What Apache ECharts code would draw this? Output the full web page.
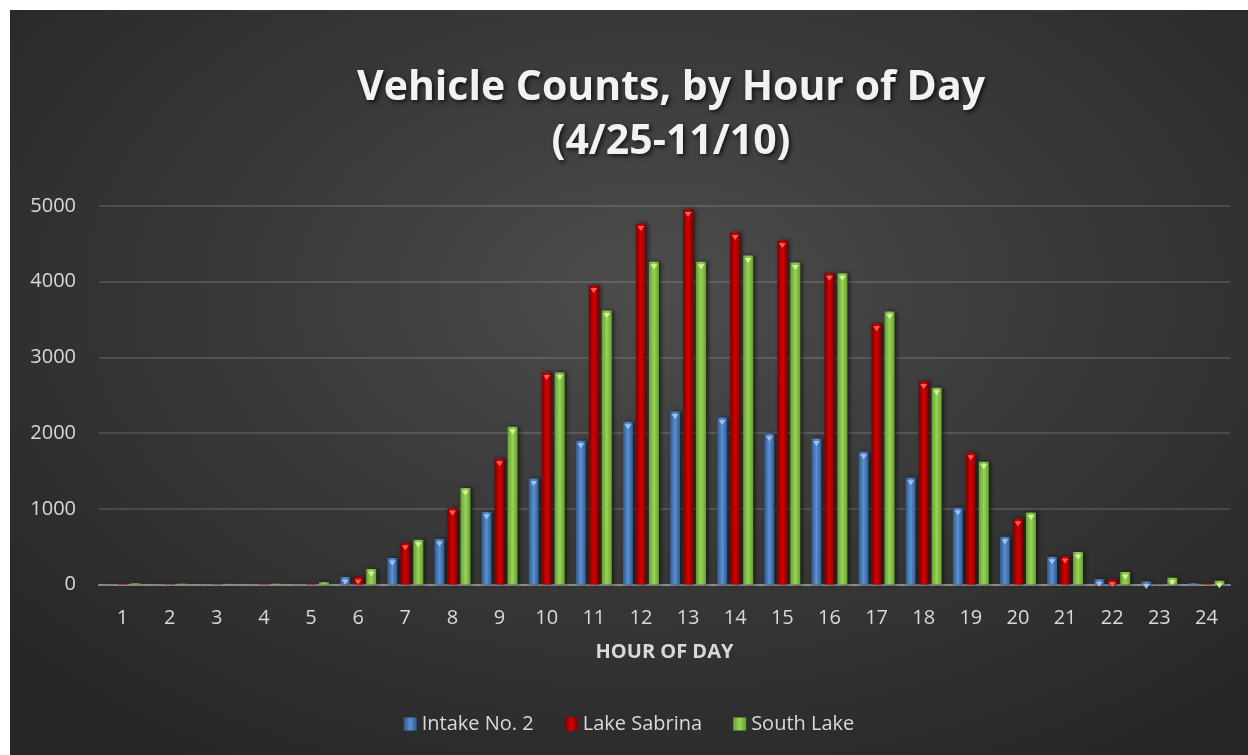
<!DOCTYPE html>
<html>
<head>
<meta charset="utf-8">
<script src="https://cdn.jsdelivr.net/npm/echarts@6/dist/echarts.min.js"></script>
<style>
  html, body { margin: 0; padding: 0; background: #ffffff; }
  #main {
    position: absolute; left: 10px; top: 10px; width: 1238px; height: 745px;
    background: radial-gradient(ellipse 70% 75% at 52% 38%, #4d4d4d 0%, #3a3a3a 45%, #262626 100%);
  }
</style>
</head>
<body>
<div id="main"></div>
<script>
// hour of day
var hours = ['1','2','3','4','5','6','7','8','9','10','11','12','13','14','15','16','17','18','19','20','21','22','23','24'];
// vehicle counts per hour
var intake  = [5, 4, 4, 4, 6, 100, 350, 600, 960, 1400, 1900, 2150, 2285, 2205, 1990, 1930, 1755, 1410, 1013, 630, 365, 70, 40, 15];
var sabrina = [8, 6, 5, 6, 12, 100, 550, 1010, 1660, 2800, 3950, 4770, 4955, 4650, 4545, 4110, 3445, 2680, 1740, 870, 375, 65, 5, 10];
var south   = [15, 10, 8, 10, 30, 205, 590, 1275, 2085, 2800, 3620, 4265, 4265, 4345, 4255, 4110, 3605, 2600, 1620, 950, 430, 165, 90, 50];
var yTicks = [0, 1000, 2000, 3000, 4000, 5000];

var font = '"Open Sans", "DejaVu Sans", sans-serif';

// gradient helper: dark edges, light middle, looks like Excel's bevel
function grad(edge, mid) {
	return new echarts.graphic.LinearGradient(0, 0, 1, 0, [
		{ offset: 0, color: edge },
		{ offset: 0.5, color: mid },
		{ offset: 1, color: edge }
	]);
}

function barSeries(name, data, edge, mid) {
	return {
		name: name,
		type: 'bar',
		data: data,
		barWidth: 10,
		barGap: '30%',
		itemStyle: {
			color: grad(edge, mid),
			shadowColor: 'rgba(0,0,0,0.6)',
			shadowBlur: 4,
			shadowOffsetX: 2
		}
	};
}

// little triangle caps at the top of each bar
function capSeries(name, data, color) {
	return {
		name: name + ' cap',
		type: 'pictorialBar',
		data: data.map(function (v) { return v < 40 ? null : v; }),
		barWidth: 10,
		barGap: '30%',
		symbol: 'triangle',
		symbolRotate: 180,
		symbolSize: [7, 5],
		symbolPosition: 'end',
		symbolOffset: [0, '50%'],
		itemStyle: { color: color },
		silent: true,
		z: 3
	};
}

var chart = echarts.init(document.getElementById('main'));
chart.setOption({
	backgroundColor: 'transparent',
	animation: false,
	title: {
		text: 'Vehicle Counts, by Hour of Day\n(4/25-11/10)',
		left: 656,
		top: 46,
		textAlign: 'center',
		textStyle: {
			fontFamily: font,
			fontSize: 41,
			fontWeight: 'bold',
			lineHeight: 54,
			color: '#f2f2f2',
			textShadowColor: 'rgba(0,0,0,0.7)',
			textShadowBlur: 4,
			textShadowOffsetX: 2,
			textShadowOffsetY: 2
		}
	},
	legend: {
		data: ['Intake No. 2', 'Lake Sabrina', 'South Lake'],
		left: 'center',
		top: 699,
		icon: 'rect',
		itemWidth: 13,
		itemHeight: 13,
		itemGap: 31,
		textStyle: { fontFamily: font, fontSize: 20, color: '#d9d9d9' }
	},
	grid: { left: 89, right: 18, top: 196, bottom: 170.5 },
	xAxis: {
		type: 'category',
		data: hours,
		name: 'HOUR OF DAY',
		nameLocation: 'middle',
		nameGap: 58,
		nameTextStyle: { fontFamily: font, fontSize: 20, fontWeight: 'bold', color: '#d9d9d9' },
		axisLine: { lineStyle: { color: '#8c8c8c', width: 2 } },
		axisTick: { show: false },
		axisLabel: { fontFamily: font, fontSize: 20, color: '#d9d9d9', margin: 24 }
	},
	yAxis: {
		type: 'value',
		min: yTicks[0],
		max: yTicks[yTicks.length - 1],
		interval: 1000,
		axisLine: { show: false },
		axisTick: { show: false },
		axisLabel: {
			fontFamily: font, fontSize: 20, color: '#d9d9d9', margin: 23,
			formatter: function (v) { return String(v); }
		},
		splitLine: { lineStyle: { color: 'rgba(255,255,255,0.13)', width: 2 } }
	},
	series: [
		barSeries('Intake No. 2', intake, '#2e5a8e', '#5b90d2'),
		barSeries('Lake Sabrina', sabrina, '#7e0000', '#d60000'),
		barSeries('South Lake', south, '#66a030', '#98d458'),
		capSeries('Intake No. 2', intake, '#9cc3f0'),
		capSeries('Lake Sabrina', sabrina, '#ff5a5a'),
		capSeries('South Lake', south, '#d4f29a')
	]
});
</script>
</body>
</html>
